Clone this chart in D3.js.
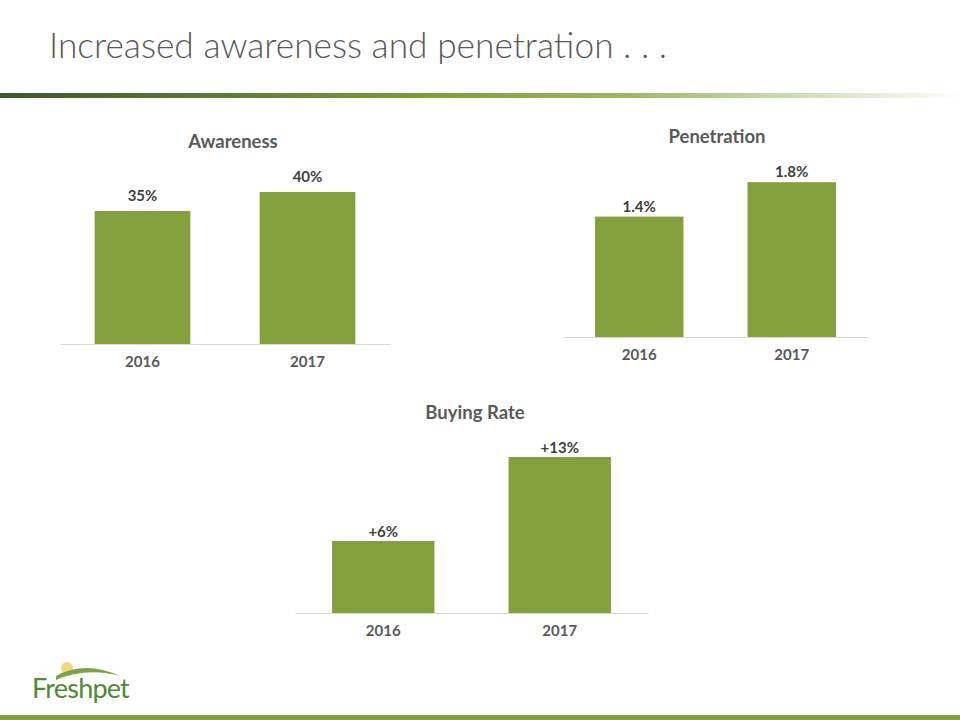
<!DOCTYPE html>
<html>
<head>
<meta charset="utf-8">
<script src="https://cdn.jsdelivr.net/npm/d3@7"></script>
<style>
  html, body { margin: 0; padding: 0; background: #fff; }
  svg { display: block; font-family: Lato, "Open Sans", sans-serif; }
</style>
</head>
<body>
<div id="chart"></div>
<script>
// Data
const years = ['2016', '2017'];
const awarenessValues = [35, 40];
const awarenessLabels = ['35%', '40%'];
const penetrationValues = [1.4, 1.8];
const penetrationLabels = ['1.4%', '1.8%'];
const buyingRateValues = [6, 13];
const buyingRateLabels = ['+6%', '+13%'];

const width = 960;
const height = 720;
const barColor = '#84a03c';

const svg = d3.select('#chart')
  .append('svg')
  .attr('width', width)
  .attr('height', height);

// Header
svg.append('text')
  .attr('x', 49)
  .attr('y', 58)
  .attr('font-size', 35.3)
  .attr('font-weight', 300)
  .attr('fill', '#595959')
  .text('Increased awareness and penetration . . .');

const grad = svg.append('defs').append('linearGradient')
  .attr('id', 'hdr')
  .attr('x1', '0%').attr('x2', '100%');
grad.append('stop').attr('offset', '0%').attr('stop-color', '#3b5a2a');
grad.append('stop').attr('offset', '45%').attr('stop-color', '#7a9f3e');
grad.append('stop').attr('offset', '65%').attr('stop-color', '#9ab860');
grad.append('stop').attr('offset', '100%').attr('stop-color', '#ffffff');

svg.append('rect')
  .attr('x', 0).attr('y', 93)
  .attr('width', width).attr('height', 5)
  .attr('fill', 'url(#hdr)');

// Bar chart panels
function barChart(opts) {
  const { title, values, labels, left, right, base, top, max, titleX, titleY, labelGap } = opts;
  const g = svg.append('g');

  const x = d3.scaleBand()
    .domain(years)
    .range([left, right])
    .paddingInner(0.42)
    .paddingOuter(0.21);
  const y = d3.scaleLinear().domain([0, max]).range([base, top]);

  g.append('text')
    .attr('x', titleX)
    .attr('y', titleY)
    .attr('text-anchor', 'middle')
    .attr('dominant-baseline', 'central')
    .attr('font-size', 18.5)
    .attr('font-weight', 700)
    .attr('fill', '#595959')
    .text(title);

  g.selectAll('.bar')
    .data(values)
    .enter()
    .append('rect')
    .attr('x', (d, i) => x(years[i]))
    .attr('y', (d) => y(d))
    .attr('width', x.bandwidth())
    .attr('height', (d) => base - y(d))
    .attr('fill', barColor);

  g.selectAll('.val')
    .data(values)
    .enter()
    .append('text')
    .attr('x', (d, i) => x(years[i]) + x.bandwidth() / 2)
    .attr('y', (d) => y(d) - labelGap)
    .attr('text-anchor', 'middle')
    .attr('dominant-baseline', 'central')
    .attr('font-size', 15)
    .attr('font-weight', 700)
    .attr('fill', '#404040')
    .text((d, i) => labels[i]);

  const axis = g.append('g')
    .attr('transform', `translate(0,${base})`)
    .call(d3.axisBottom(x).tickSize(0).tickPadding(12));
  axis.select('.domain').attr('stroke', '#d9d9d9').attr('stroke-width', 1);
  axis.selectAll('text')
    .attr('font-family', 'Lato, "Open Sans", sans-serif')
    .attr('font-size', 15)
    .attr('font-weight', 700)
    .attr('fill', '#595959');
}

barChart({
  title: 'Awareness', values: awarenessValues, labels: awarenessLabels,
  left: 60, right: 390, base: 344, top: 173, max: 45,
  titleX: 233, titleY: 141, labelGap: 16
});

barChart({
  title: 'Penetration', values: penetrationValues, labels: penetrationLabels,
  left: 563, right: 868, base: 337, top: 165, max: 2,
  titleX: 717, titleY: 136, labelGap: 11
});

barChart({
  title: 'Buying Rate', values: buyingRateValues, labels: buyingRateLabels,
  left: 295, right: 648, base: 613, top: 445, max: 14,
  titleX: 475, titleY: 412, labelGap: 10
});

// Logo
const logo = svg.append('g');
logo.append('circle')
  .attr('cx', 67).attr('cy', 668).attr('r', 6)
  .attr('fill', '#f3d77c');
logo.append('path')
  .attr('d', 'M56,676 Q85,660 120,676 Q86,667 56,680 Z')
  .attr('fill', '#7fa348');
logo.append('text')
  .attr('x', 32)
  .attr('y', 698)
  .attr('font-family', 'Lato, sans-serif')
  .attr('font-size', 27)
  .attr('fill', '#4f8a35')
  .attr('letter-spacing', -0.8)
  .text('Freshpet');

// Bottom band
svg.append('rect')
  .attr('x', 0).attr('y', 715)
  .attr('width', width).attr('height', 5)
  .attr('fill', barColor);
</script>
</body>
</html>
